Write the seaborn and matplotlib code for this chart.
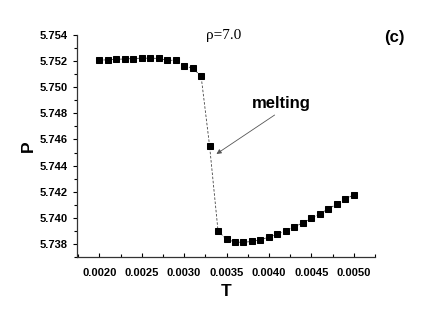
import numpy as np
import matplotlib
matplotlib.use("Agg")
import matplotlib.pyplot as plt
from matplotlib.ticker import MultipleLocator, FormatStrFormatter
import seaborn as sns

# data
T = [0.0020, 0.0021, 0.0022, 0.0023, 0.0024, 0.0025, 0.0026, 0.0027, 0.0028, 0.0029,
     0.0030, 0.0031, 0.0032, 0.0033, 0.0034, 0.0035, 0.0036, 0.0037, 0.0038, 0.0039,
     0.0040, 0.0041, 0.0042, 0.0043, 0.0044, 0.0045, 0.0046, 0.0047, 0.0048, 0.0049,
     0.0050]
P = [5.75206, 5.75210, 5.75213, 5.75216, 5.75219, 5.75222, 5.75222, 5.75220, 5.75206, 5.75206,
     5.75165, 5.75145, 5.75086, 5.74552, 5.73899, 5.73836, 5.73815, 5.73813, 5.73820, 5.73833,
     5.73853, 5.73876, 5.73902, 5.73930, 5.73963, 5.73996, 5.74032, 5.74068, 5.74106, 5.74142,
     5.74177]

sns.set_theme(style="ticks")
plt.rcParams['font.family'] = ['Liberation Sans', 'DejaVu Sans']
plt.rcParams['text.color'] = 'black'
plt.rcParams['axes.labelcolor'] = 'black'
plt.rcParams['xtick.color'] = 'black'
plt.rcParams['ytick.color'] = 'black'

fig = plt.figure(figsize=(4.36, 3.09), dpi=100)
ax = fig.add_axes([0.176, 0.168, 0.684, 0.719])

sns.lineplot(x=T, y=P, ax=ax, color='#444444', linewidth=0.6, linestyle=(0, (3, 2)),
             marker='s', markersize=4.5, markerfacecolor='black', markeredgecolor='black')

ax.set_xlim(0.001734, 0.00525)
ax.set_ylim(5.737, 5.754)
ax.xaxis.set_major_locator(MultipleLocator(0.0005))
ax.xaxis.set_minor_locator(MultipleLocator(0.00025))
ax.yaxis.set_major_locator(MultipleLocator(0.002))
ax.yaxis.set_minor_locator(MultipleLocator(0.001))
ax.xaxis.set_major_formatter(FormatStrFormatter('%.4f'))
ax.yaxis.set_major_formatter(FormatStrFormatter('%.3f'))
ax.tick_params(axis='x', direction='in', length=3, width=0.8, labelsize=8, pad=8)
ax.tick_params(axis='x', which='minor', direction='in', length=2, width=0.8)
ax.tick_params(axis='y', direction='out', length=3, width=0.8, labelsize=8)
ax.tick_params(axis='y', which='minor', direction='out', length=2, width=0.8)
for lab in ax.get_xticklabels() + ax.get_yticklabels():
    lab.set_fontweight('bold')

sns.despine(ax=ax)
for s in ['left', 'bottom']:
    ax.spines[s].set_color('#333333')
    ax.spines[s].set_linewidth(0.9)

ax.set_xlabel('T', fontsize=12.5, fontweight='bold', labelpad=4)
ax.set_ylabel('P', fontsize=12.5, fontweight='bold', labelpad=3)

fig.text(0.514, 0.885, 'ρ=7.0', family='Liberation Serif', fontsize=11, ha='center', va='center')
fig.text(0.905, 0.878, '(c)', fontsize=12, fontweight='bold', ha='center', va='center')

ax.text(0.004149, 5.74879, 'melting', fontsize=12, fontweight='bold', ha='center', va='center')
ax.annotate('', xy=(0.003381, 5.74489), xytext=(0.004067, 5.74787),
            arrowprops=dict(arrowstyle='-|>', color='#555555', lw=0.6,
                            mutation_scale=7, shrinkA=0, shrinkB=0))

fig.savefig('out.png', dpi=100)
